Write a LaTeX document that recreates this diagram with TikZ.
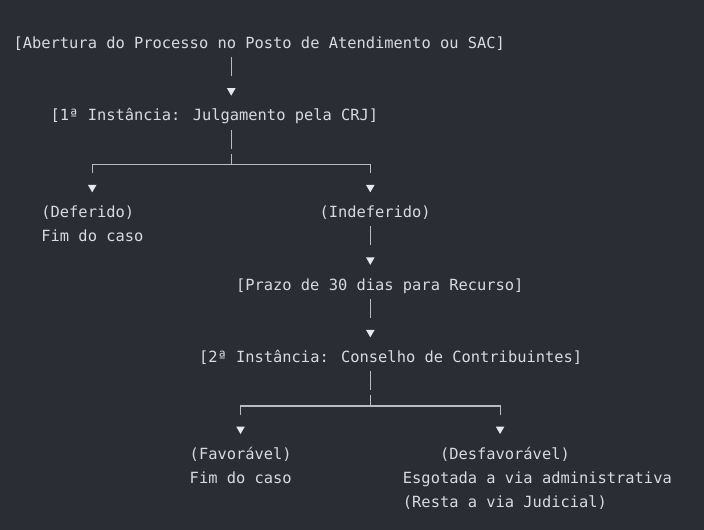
\documentclass[tikz,border=0pt]{standalone}
\usepackage{fontspec}
\setmainfont{DejaVu Sans Mono}
\usetikzlibrary{shapes.geometric}
\definecolor{bgc}{HTML}{2B2D35}
\definecolor{txt}{HTML}{D9DADE}
\definecolor{lnc}{HTML}{B9BBC1}
\definecolor{tric}{HTML}{E8E8EC}
\newcommand\colx[1]{(13.4+9.27*(#1))}
\newcommand\rowy[1]{(48.3+24.17*(#1))}
\begin{document}
\begin{tikzpicture}[x=1pt,y=-1pt,
  lbl/.style={anchor=base west, inner sep=0pt, text height=12pt, text depth=4pt,
    text=txt, font=\fontsize{15.4}{24}\selectfont},
  tri/.style={regular polygon, regular polygon sides=3, shape border rotate=180,
    fill=tric, inner sep=0pt, minimum size=10pt},
  link/.style={draw=lnc, line width=1.1pt},
  vlink/.style={link, shorten <=4.57pt, shorten >=12.07pt},
  stem/.style={link, shorten <=4.57pt, dash pattern=on 19.2pt off 5pt on 40pt},
  arm/.style={link, shorten >=11.67pt}
]
\fill[bgc] (0,0) rectangle (704,530);
\useasboundingbox (0,0) rectangle (704,530);

% text nodes
\node[lbl] (open)  at ({\colx{0}},{\rowy{0}})  {[Abertura do Processo no Posto de Atendimento ou SAC]};
\node[lbl] (crj)   at ({\colx{4}},{\rowy{3}})  {[1ª Instância: Julgamento pela CRJ]};
\node[lbl] (def)   at ({\colx{3}},{\rowy{7}})  {(Deferido)};
\node[lbl] (deffim) at ({\colx{3}},{\rowy{8}}) {Fim do caso};
\node[lbl] (indef) at ({\colx{33}},{\rowy{7}}) {(Indeferido)};
\node[lbl] (prazo) at ({\colx{24}},{\rowy{10}}) {[Prazo de 30 dias para Recurso]};
\node[lbl] (cons)  at ({\colx{20}},{\rowy{13}}) {[2ª Instância: Conselho de Contribuintes]};
\node[lbl] (fav)   at ({\colx{19}},{\rowy{17}}) {(Favorável)};
\node[lbl] (favfim) at ({\colx{19}},{\rowy{18}}) {Fim do caso};
\node[lbl] (desf)  at ({\colx{46}},{\rowy{17}}) {(Desfavorável)};
\node[lbl] (esg)   at ({\colx{42}},{\rowy{18}}) {Esgotada a via administrativa};
\node[lbl] (resta) at ({\colx{42}},{\rowy{19}}) {(Resta a via Judicial)};

% arrow heads
\node[tri] (t1) at ({\colx{23.5}},{\rowy{2}-6}) {};
\node[tri] (tD) at ({\colx{8.5}},{\rowy{6}-6}) {};
\node[tri] (tI) at ({\colx{38.5}},{\rowy{6}-6}) {};
\node[tri] (tP) at ({\colx{38.5}},{\rowy{9}-6}) {};
\node[tri] (tC) at ({\colx{38.5}},{\rowy{12}-6}) {};
\node[tri] (tF) at ({\colx{24.5}},{\rowy{16}-6}) {};
\node[tri] (tS) at ({\colx{52.5}},{\rowy{16}-6}) {};

% junctions
\coordinate (j1) at ({\colx{23.5}},{\rowy{5}-4.9});
\coordinate (j2) at ({\colx{38.5}},{\rowy{15}-4.9});

% connectors
\draw[vlink] (t1 |- open.south) -- (t1);
\draw[stem] (j1 |- crj.south) -- (j1);
\draw[arm] (j1) -| (tD);
\draw[arm] (j1) -| (tI);
\draw[vlink] (tP |- indef.south) -- (tP);
\draw[vlink] (tC |- prazo.south) -- (tC);
\draw[stem] (j2 |- cons.south) -- (j2);
\draw[arm] (j2) -| (tF);
\draw[arm] (j2) -| (tS);
\end{tikzpicture}
\end{document}
